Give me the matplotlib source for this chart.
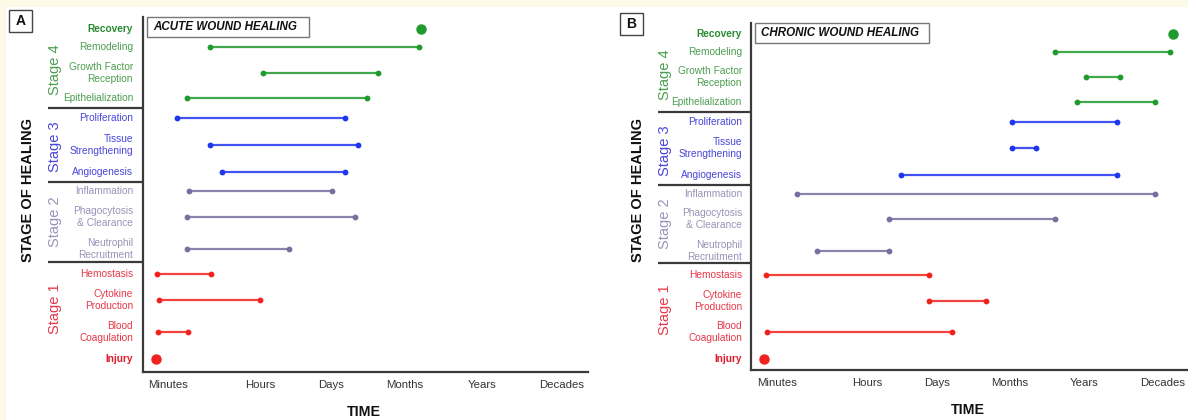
import matplotlib
matplotlib.use("Agg")
import matplotlib.pyplot as plt
from matplotlib.patches import Rectangle
from matplotlib.transforms import blended_transform_factory

plt.rcParams['font.family'] = ['Liberation Sans', 'DejaVu Sans']

# ---------------- data ----------------
time_ticks = ["Minutes", "Hours", "Days", "Months", "Years", "Decades"]
tick_pos_a = [0.0, 1.02, 1.81, 2.63, 3.49, 4.38]
tick_pos_b = [0.0, 1.0, 1.78, 2.59, 3.42, 4.29]

processes = ["Injury", "Blood\nCoagulation", "Cytokine\nProduction", "Hemostasis",
             "Neutrophil\nRecruitment", "Phagocytosis\n& Clearance", "Inflammation",
             "Angiogenesis", "Tissue\nStrengthening", "Proliferation",
             "Epithelialization", "Growth Factor\nReception", "Remodeling", "Recovery"]
stage_of = [0, 1, 1, 1, 2, 2, 2, 3, 3, 3, 4, 4, 4, 5]   # 0 = injury, 5 = recovery

# acute wound healing: start / end in timeline units (None = single event)
acute_start = [-0.13, -0.11, -0.10, -0.12, 0.21, 0.21, 0.23, 0.60, 0.46, 0.10, 0.21, 1.06, 0.46, 2.81]
acute_end   = [None, 0.22, 1.02, 0.48, 1.34, 2.08, 1.82, 1.97, 2.11, 1.97, 2.21, 2.33, 2.79, None]

# chronic wound healing
chronic_start = [-0.14, -0.11, 1.69, -0.12, 0.44, 1.24, 0.22, 1.38, 2.61, 2.61, 3.33, 3.44, 3.09, 4.40]
chronic_end   = [None, 1.94, 2.32, 1.69, 1.24, 3.09, 4.20, 3.78, 2.88, 3.78, 4.20, 3.81, 4.37, None]

stage_names = ["Stage 1", "Stage 2", "Stage 3", "Stage 4"]

# ---------------- layout / style ----------------
row_y = [13, 40, 72, 98, 123, 155, 181, 200, 227, 254, 274, 299, 325, 343]
stage_center = [63, 150, 225, 302]
dividers = [110, 190, 264]

line_col = {0: "#f2221f", 1: "#f2221f", 2: "#77709f", 3: "#1f35ee", 4: "#1f9a2c", 5: "#1f9a2c"}
label_col = {0: "#e01b2e", 1: "#e8384a", 2: "#9a92b8", 3: "#4a46d8", 4: "#4c9e50", 5: "#2a8a30"}
stage_col = ["#e8384a", "#9a92b8", "#4a46d8", "#4c9e50"]

W, H = 1188, 420
fig = plt.figure(figsize=(W / 100, H / 100), dpi=100)
fig.patch.set_facecolor("white")
# cream border bands
fig.add_artist(Rectangle((0, 1 - 7 / H), 1, 7 / H, transform=fig.transFigure,
                         facecolor="#fdf9e7", edgecolor="none", zorder=0))
fig.add_artist(Rectangle((0, 0), 6 / W, 1, transform=fig.transFigure,
                         facecolor="#fdf9e7", edgecolor="none", zorder=0))


def fx(px):
    return px / W


def fy(py):
    return 1 - py / H


def panel(ax_box, xlim, ylim, ticks, starts, ends, title, title_box, letter, letter_box,
          label_x, stage_x, axis_title_x, div_x0, time_y):
    l, r, t, b = ax_box
    ax = fig.add_axes([fx(l), fy(b), fx(r - l), (b - t) / H])
    ax.set_xlim(*xlim)
    ax.set_ylim(*ylim)
    ax.set_facecolor("none")
    for s in ["top", "right"]:
        ax.spines[s].set_visible(False)
    for s in ["left", "bottom"]:
        ax.spines[s].set_color("#3a3a3a")
        ax.spines[s].set_linewidth(1.6)
    ax.set_yticks([])
    ax.set_xticks(ticks)
    ax.set_xticklabels(time_ticks, fontsize=8.2, color="#333333")
    ax.tick_params(axis="x", length=0, pad=6)

    for i, name in enumerate(processes):
        st = stage_of[i]
        c = line_col[st]
        y = row_y[i]
        if ends[i] is None:
            ax.plot([starts[i]], [y], "o", color=c, markersize=6.5, clip_on=False)
        else:
            ax.plot([starts[i], ends[i]], [y, y], "-", color=c, lw=1.6, alpha=0.85,
                    solid_capstyle="butt", clip_on=False)
            ax.plot([starts[i], ends[i]], [y, y], "o", color=c, markersize=4.2,
                    markeredgewidth=0, clip_on=False)

    tr = blended_transform_factory(fig.transFigure, ax.transData)
    for i, name in enumerate(processes):
        st = stage_of[i]
        bold = st in (0, 5)
        ax.text(fx(label_x), row_y[i], name, transform=tr, ha="right", va="center",
                fontsize=7.3, color=label_col[st], linespacing=1.25,
                fontweight="bold" if bold else "normal", multialignment="right")
    for k, sn in enumerate(stage_names):
        ax.text(fx(stage_x), stage_center[k], sn, transform=tr, ha="center", va="center",
                rotation=90, fontsize=10.5, color=stage_col[k])
    for dy in dividers:
        ax.plot([fx(div_x0), fx(l)], [dy, dy], transform=tr, color="#3a3a3a", lw=1.6,
                clip_on=False, solid_capstyle="butt")

    fig.text(fx(axis_title_x), fy(190), "STAGE OF HEALING", rotation=90, ha="center",
             va="center", fontsize=10.5, fontweight="bold", color="#111111")
    fig.text(fx((l + r) / 2 - 2), fy(time_y), "TIME", ha="center", va="center",
             fontsize=10.2, fontweight="bold", color="#111111")

    # title box
    tx0, ty0, tx1, ty1 = title_box
    fig.add_artist(Rectangle((fx(tx0), fy(ty1)), fx(tx1 - tx0), (ty1 - ty0) / H,
                             transform=fig.transFigure, facecolor="white",
                             edgecolor="#777777", lw=1.0))
    fig.text(fx(tx0 + 6), fy((ty0 + ty1) / 2), title, ha="left", va="center",
             fontsize=8.4, fontweight="bold", fontstyle="italic", color="#111111")
    # panel letter box
    lx0, ly0, lx1, ly1 = letter_box
    fig.add_artist(Rectangle((fx(lx0), fy(ly1)), fx(lx1 - lx0), (ly1 - ly0) / H,
                             transform=fig.transFigure, facecolor="white",
                             edgecolor="#444444", lw=1.0))
    fig.text(fx((lx0 + lx1) / 2), fy((ly0 + ly1) / 2), letter, ha="center", va="center",
             fontsize=10, fontweight="bold", color="#111111")
    return ax


panel((143, 588, 17, 372), (-0.28, 4.67), (0, 355), tick_pos_a, acute_start, acute_end,
      "ACUTE WOUND HEALING", (147, 17, 309, 37), "A", (9, 10, 32, 32),
      133, 55, 28, 48, 412)
panel((751, 1188, 23, 370), (-0.29, 4.57), (1.8, 354.2), tick_pos_b, chronic_start,
      chronic_end, "CHRONIC WOUND HEALING", (755, 23, 929, 43), "B", (620, 13, 643, 35),
      742, 665, 638, 658, 410)

fig.savefig("out.png", dpi=100)
